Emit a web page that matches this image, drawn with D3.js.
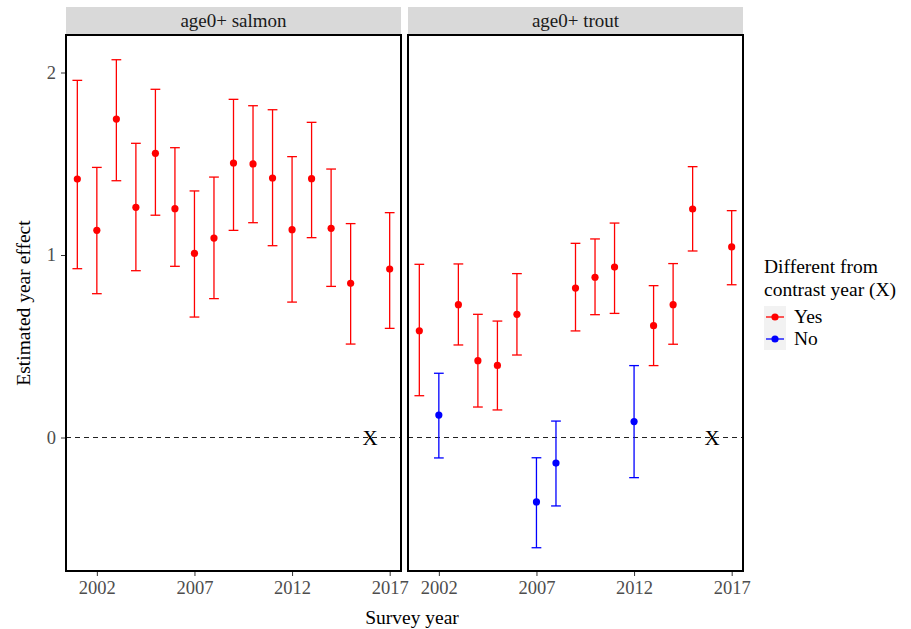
<!DOCTYPE html>
<html>
<head>
<meta charset="utf-8">
<script src="https://cdn.jsdelivr.net/npm/d3@7"></script>
<style>
  body { margin: 0; background: #fff; }
  text { font-family: "Liberation Serif", "DejaVu Serif", serif; }
</style>
</head>
<body>
<script>
// survey years (2016 is the contrast year, no estimate)
var years = [2001,2002,2003,2004,2005,2006,2007,2008,2009,2010,2011,2012,2013,2014,2015,2016,2017];
var contrastYear = 2016;

var salmonEst = [1.416,1.135,1.745,1.261,1.557,1.254,1.009,1.093,1.504,1.499,1.422,1.139,1.418,1.146,0.845,null,0.923];
var salmonLo  = [0.925,0.788,1.407,0.914,1.218,0.938,0.660,0.761,1.135,1.177,1.051,0.742,1.095,0.828,0.512,null,0.598];
var salmonHi  = [1.957,1.480,2.070,1.612,1.908,1.588,1.351,1.427,1.853,1.818,1.796,1.539,1.727,1.471,1.172,null,1.232];
var salmonDiff = ["Yes","Yes","Yes","Yes","Yes","Yes","Yes","Yes","Yes","Yes","Yes","Yes","Yes","Yes","Yes",null,"Yes"];

var troutEst = [0.585,0.123,0.728,0.421,0.395,0.675,-0.353,-0.140,0.819,0.878,0.934,0.087,0.613,0.728,1.252,null,1.044];
var troutLo  = [0.229,-0.112,0.507,0.167,0.151,0.452,-0.604,-0.375,0.584,0.673,0.680,-0.220,0.394,0.511,1.022,null,0.837];
var troutHi  = [0.949,0.352,0.951,0.675,0.638,0.898,-0.111,0.090,1.064,1.088,1.175,0.394,0.832,0.953,1.484,null,1.243];
var troutDiff = ["Yes","No","Yes","Yes","Yes","Yes","No","No","Yes","Yes","Yes","No","Yes","Yes","Yes",null,"Yes"];

var panelNames = ["age0+ salmon", "age0+ trout"];
var xTicks = [2002, 2007, 2012, 2017];
var yTicks = [0, 1, 2];
var diffLevels = ["Yes", "No"];

function rows(est, lo, hi, diff) {
  return years.map(function(y, i) {
    return {year: y, est: est[i], lo: lo[i], hi: hi[i], diff: diff[i]};
  }).filter(function(d) { return d.est != null; });
}
var panels = [
  {name: panelNames[0], data: rows(salmonEst, salmonLo, salmonHi, salmonDiff), x0: 66, x1: 401},
  {name: panelNames[1], data: rows(troutEst, troutLo, troutHi, troutDiff), x0: 408, x1: 743}
];

var W = 911, H = 629;
var plotTop = 35, plotBottom = 571;

var svg = d3.select("body").append("svg")
  .attr("width", W).attr("height", H);

var y = d3.scaleLinear().domain([-0.7315, 2.2055]).range([plotBottom, plotTop]);
var color = d3.scaleOrdinal().domain(diffLevels).range(["#FF0000", "#0000FF"]);

panels.forEach(function(p, pi) {
  var x = d3.scaleLinear().domain([2000.42, 2017.58]).range([p.x0, p.x1]);
  var g = svg.append("g");

  // strip
  g.append("rect")
    .attr("x", p.x0).attr("y", 7)
    .attr("width", p.x1 - p.x0).attr("height", 27)
    .attr("fill", "#D9D9D9");
  g.append("text")
    .attr("x", (p.x0 + p.x1) / 2).attr("y", 27)
    .attr("text-anchor", "middle")
    .attr("font-size", 19)
    .attr("fill", "#1A1A1A")
    .text(p.name);

  // zero line
  g.append("line")
    .attr("x1", p.x0).attr("x2", p.x1)
    .attr("y1", y(0)).attr("y2", y(0))
    .attr("stroke", "#222").attr("stroke-width", 1.2)
    .attr("stroke-dasharray", "5,4");

  // contrast year marker
  g.append("text")
    .attr("x", x(contrastYear)).attr("y", y(0) + 7)
    .attr("text-anchor", "middle")
    .attr("font-size", 21)
    .attr("fill", "#000")
    .text("X");

  // error bars
  var bars = g.selectAll("g.bar")
    .data(p.data)
    .join("g").attr("class", "bar")
    .attr("stroke", d => color(d.diff))
    .attr("stroke-width", 1.3);
  bars.append("line")
    .attr("x1", d => x(d.year)).attr("x2", d => x(d.year))
    .attr("y1", d => y(d.lo)).attr("y2", d => y(d.hi));
  bars.append("line")
    .attr("x1", d => x(d.year - 0.25)).attr("x2", d => x(d.year + 0.25))
    .attr("y1", d => y(d.lo)).attr("y2", d => y(d.lo));
  bars.append("line")
    .attr("x1", d => x(d.year - 0.25)).attr("x2", d => x(d.year + 0.25))
    .attr("y1", d => y(d.hi)).attr("y2", d => y(d.hi));

  g.selectAll("circle")
    .data(p.data)
    .join("circle")
    .attr("cx", d => x(d.year))
    .attr("cy", d => y(d.est))
    .attr("r", 3.6)
    .attr("fill", d => color(d.diff));

  // panel border
  g.append("rect")
    .attr("x", p.x0).attr("y", plotTop)
    .attr("width", p.x1 - p.x0).attr("height", plotBottom - plotTop)
    .attr("fill", "none")
    .attr("stroke", "#000").attr("stroke-width", 2);

  // x axis
  var xa = g.append("g")
    .attr("transform", "translate(0," + (plotBottom + 1) + ")")
    .call(d3.axisBottom(x).tickValues(xTicks).tickFormat(d3.format("d")).tickSize(4).tickPadding(5));
  xa.select(".domain").remove();
  xa.selectAll(".tick line").attr("stroke", "#333");
  xa.selectAll("text").attr("font-size", 18.5).attr("fill", "#4D4D4D")
    .style("font-family", "Liberation Serif");

  if (pi === 0) {
    var ya = g.append("g")
      .attr("transform", "translate(" + (p.x0 - 1) + ",0)")
      .call(d3.axisLeft(y).tickValues(yTicks).tickFormat(d3.format("d")).tickSize(4).tickPadding(5));
    ya.select(".domain").remove();
    ya.selectAll(".tick line").attr("stroke", "#333");
    ya.selectAll("text").attr("font-size", 18.5).attr("fill", "#4D4D4D")
      .style("font-family", "Liberation Serif");
  }
});

// axis titles
svg.append("text")
  .attr("x", 412).attr("y", 624)
  .attr("text-anchor", "middle")
  .attr("font-size", 19.5)
  .text("Survey year");
svg.append("text")
  .attr("transform", "translate(30," + ((plotTop + plotBottom) / 2) + ") rotate(-90)")
  .attr("text-anchor", "middle")
  .attr("font-size", 19.5)
  .text("Estimated year effect");

// legend
var lg = svg.append("g").attr("transform", "translate(764,0)");
lg.append("text").attr("x", 0).attr("y", 273).attr("font-size", 19.5).text("Different from");
lg.append("text").attr("x", 0).attr("y", 296).attr("font-size", 19.5).text("contrast year (X)");
diffLevels.forEach(function(k, i) {
  var cy = 317 + i * 22;
  lg.append("rect")
    .attr("x", 0).attr("y", cy - 11)
    .attr("width", 22).attr("height", 22)
    .attr("fill", "#F2F2F2");
  lg.append("line")
    .attr("x1", 2).attr("x2", 20)
    .attr("y1", cy).attr("y2", cy)
    .attr("stroke", color(k)).attr("stroke-width", 1.3);
  lg.append("circle")
    .attr("cx", 11).attr("cy", cy).attr("r", 3.6)
    .attr("fill", color(k));
  lg.append("text")
    .attr("x", 30).attr("y", cy + 6)
    .attr("font-size", 19.5)
    .text(k);
});
</script>
</body>
</html>
